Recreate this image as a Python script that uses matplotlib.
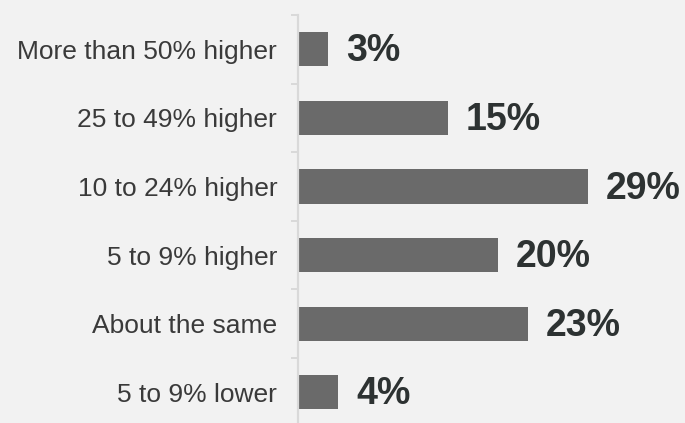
import numpy as np
import matplotlib.pyplot as plt

plt.rcParams['font.family'] = ['Liberation Sans', 'DejaVu Sans']

categories = ["More than 50% higher", "25 to 49% higher", "10 to 24% higher",
              "5 to 9% higher", "About the same", "5 to 9% lower"]
shares = [3, 15, 29, 20, 23, 4]

bg = "#f2f2f2"
fig = plt.figure(figsize=(6.85, 4.23), dpi=100, facecolor=bg)
ax = fig.add_axes([298 / 685, -3.6 / 423, 387 / 685, 411.6 / 423], facecolor=bg)

y = np.arange(len(categories))
ax.barh(y, shares, height=0.5, color="#6a6a6a", zorder=2)

# value labels just past the end of each bar
for yi, v in zip(y, shares):
    ax.annotate(f"{v}%", xy=(v, yi), xytext=(13, -1.5), textcoords="offset points",
                ha="left", va="center", fontsize=27, fontweight="bold",
                color="#2d3232")

ax.set_xlim(0, 38.7)
ax.set_ylim(len(categories) - 0.5, -0.5)

ax.set_yticks(y)
ax.set_yticklabels(categories, fontsize=19, color="#3a3a3a")
ax.tick_params(axis="y", which="major", length=0, pad=15)
# short ticks between categories
ax.set_yticks(np.arange(-0.5, len(categories)), minor=True)
ax.tick_params(axis="y", which="minor", length=5, width=1.4, color="#d9d9d9")
ax.set_xticks([])

for side in ["top", "right", "bottom"]:
    ax.spines[side].set_visible(False)
ax.spines["left"].set_color("#d9d9d9")
ax.spines["left"].set_linewidth(1.6)

fig.savefig("out.png", dpi=100, facecolor=bg)
